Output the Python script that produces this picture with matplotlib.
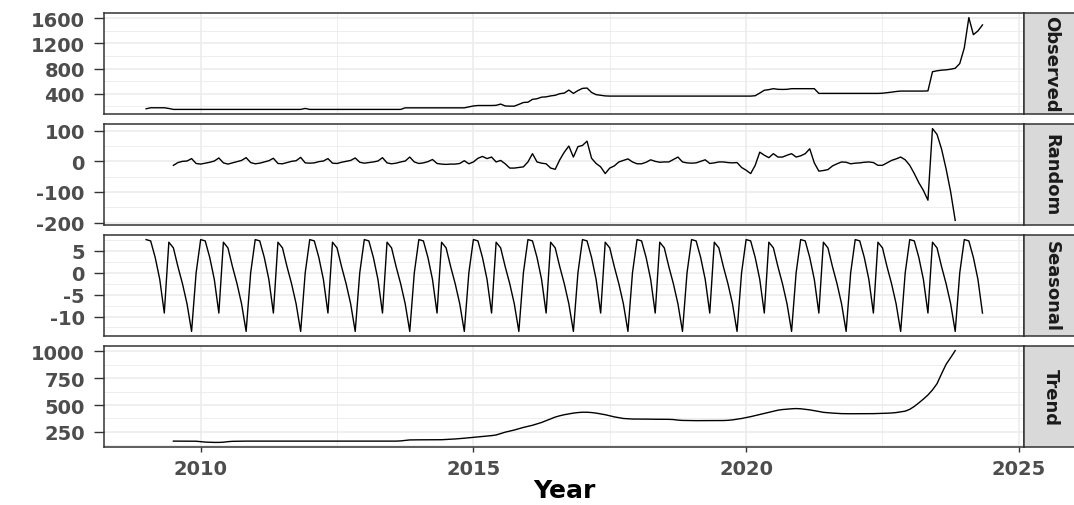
import numpy as np
import matplotlib.pyplot as plt
from matplotlib.ticker import MultipleLocator

plt.rcParams['font.family'] = 'DejaVu Sans'
plt.rcParams['axes.unicode_minus'] = False

# monthly series, Jan 2009 - May 2024
observed = [
    160, 176, 176, 176, 176, 165, 150, 150, 150, 150, 150, 150,  # 2009
    150, 150, 150, 150, 150, 150, 150, 150, 150, 150, 150, 150,  # 2010
    150, 150, 150, 150, 150, 150, 150, 150, 150, 150, 150, 165,  # 2011
    150, 150, 150, 150, 150, 150, 150, 150, 150, 150, 150, 150,  # 2012
    150, 150, 150, 150, 150, 150, 150, 150, 150, 175, 175, 175,  # 2013
    175, 175, 175, 175, 175, 175, 175, 175, 175, 175, 175, 190,  # 2014
    205, 212, 212, 212, 212, 215, 235, 205, 202, 202, 230, 260,  # 2015
    265, 310, 320, 345, 350, 365, 375, 400, 410, 458, 405, 450,  # 2016
    485, 490, 420, 385, 375, 365, 362, 362, 362, 362, 362, 362,  # 2017
    362, 362, 362, 362, 362, 362, 362, 362, 362, 362, 362, 362,  # 2018
    362, 362, 362, 362, 362, 362, 362, 362, 362, 362, 362, 362,  # 2019
    362, 362, 368, 410, 455, 465, 480, 470, 468, 470, 480, 480,  # 2020
    480, 480, 480, 480, 405, 405, 405, 405, 405, 405, 405, 405,  # 2021
    405, 405, 405, 405, 405, 405, 408, 416, 425, 435, 442, 442,  # 2022
    442, 442, 442, 442, 445, 750, 765, 775, 780, 790, 805, 880,  # 2023
    1130, 1612, 1340, 1400, 1495,                                # 2024
]

# seasonal figure per calendar month (Jan..Dec), repeats every year
seasonal_month = [7.6, 7.3, 3.5, -1.5, -9.2, 7.0, 5.7, 1.4, -2.5, -7.1, -13.4, 0.0]

# moving-average parts, Jul 2009 - Nov 2023
trend = [
    165, 165, 165, 165, 165, 164,                                # 2009
    160, 156, 154, 153, 153, 155, 160, 163, 164, 165, 165, 165,  # 2010
    165, 165, 165, 165, 165, 165, 165, 165, 165, 165, 165, 165,  # 2011
    165, 165, 165, 165, 165, 165, 165, 165, 165, 165, 165, 165,  # 2012
    165, 165, 165, 165, 165, 165, 165, 165, 167, 172, 176, 177,  # 2013
    177, 177, 177, 177, 177, 178, 180, 183, 185, 188, 192, 196,  # 2014
    200, 204, 208, 212, 216, 222, 235, 248, 258, 268, 280, 292,  # 2015
    302, 312, 325, 338, 355, 372, 388, 400, 410, 418, 425, 430,  # 2016
    433, 433, 430, 425, 418, 410, 400, 390, 382, 375, 372, 370,  # 2017
    370, 369, 369, 368, 368, 368, 368, 367, 365, 360, 357, 356,  # 2018
    356, 355, 355, 355, 355, 355, 355, 356, 358, 362, 368, 375,  # 2019
    383, 392, 402, 412, 422, 432, 442, 452, 458, 462, 465, 467,  # 2020
    465, 460, 455, 448, 440, 432, 428, 425, 422, 420, 419, 419,  # 2021
    419, 419, 419, 419, 420, 421, 422, 424, 426, 430, 436, 443,  # 2022
    460, 487, 520, 555, 593, 640, 698, 790, 878, 940, 1005,      # 2023
]

random_part = [
    -13, -4, 0, 1, 9, -7,                                        # 2009
    -9, -6, -3, 1, 11, -5, -9, -5, -1, 3, 12, -4,                # 2010
    -8, -6, -2, 2, 10, -7, -8, -4, 0, 2, 13, -5,                 # 2011
    -6, -5, -1, 1, 9, -6, -7, -3, 0, 3, 11, -3,                  # 2012
    -6, -4, -2, 1, 12, -5, -8, -6, -2, 1, 14, -2,                # 2013
    -7, -5, -1, 6, -7, -9, -10, -9, -9, -7, 2, -8,               # 2014
    -2, 10, 16, 9, 14, -2, 3, -8, -22, -22, -20, -18,            # 2015
    -2, 25, -2, -6, -8, -22, -26, 5, 30, 50, 14, 48,             # 2016
    52, 66, 10, -7, -18, -40, -22, -15, -2, 3, 8, -2,            # 2017
    -8, -8, -3, 5, 0, -3, -2, -2, 6, 14, -2, -5,                 # 2018
    -6, -5, 0, 5, -7, -5, -2, -2, -4, -5, -4, -20,               # 2019
    -29, -40, -13, 30, 20, 12, 25, 14, 14, 20, 25, 14,           # 2020
    18, 25, 41, -5, -32, -30, -27, -15, -8, -2, -3, -8,          # 2021
    -6, -5, -3, -2, -4, -13, -13, -5, 3, 8, 14, 5,               # 2022
    -13, -40, -70, -95, -127, 107, 88, 40, -25, -100, -193,      # 2023
]

obs_t = 2009 + np.arange(len(observed)) / 12
dec_t = 2009.5 + np.arange(len(trend)) / 12
seasonal = np.tile(seasonal_month, 16)[:len(observed)]

panels = [
    ("Observed", obs_t, observed, 400),
    ("Random", dec_t, random_part, 100),
    ("Seasonal", obs_t, seasonal, 5),
    ("Trend", dec_t, trend, 250),
]

W, H = 1074, 506
fig = plt.figure(figsize=(W / 100, H / 100), dpi=100)
left, right = 104.3, 1024.3
tops = [14, 125, 236, 347]
ph = 101

axes = []
for i, (name, t, vals, step) in enumerate(panels):
    rect = [left / W, 1 - (tops[i] + ph) / H, (right - left) / W, ph / H]
    ax = fig.add_axes(rect, sharex=axes[0] if axes else None)
    ax.plot(t, vals, color='black', lw=1.0)
    ax.yaxis.set_major_locator(MultipleLocator(step))
    ax.yaxis.set_minor_locator(MultipleLocator(step / 2))
    ax.xaxis.set_major_locator(MultipleLocator(5))
    ax.xaxis.set_minor_locator(MultipleLocator(2.5))
    ax.grid(which='major', color='#EBEBEB', lw=1.1)
    ax.grid(which='minor', color='#EBEBEB', lw=0.6)
    ax.set_axisbelow(True)
    for s in ax.spines.values():
        s.set_color('#333333')
        s.set_linewidth(1.1)
    ax.tick_params(which='minor', length=0)
    ax.tick_params(axis='y', which='major', length=7, width=1.0, color='#333333',
                   pad=7, labelsize=14, labelcolor='#4D4D4D')
    if i < 3:
        ax.tick_params(axis='x', bottom=False, labelbottom=False)
    else:
        ax.tick_params(axis='x', which='major', length=3.4, width=1.0, color='#333333',
                       pad=5, labelsize=14, labelcolor='#4D4D4D')
        ax.set_xlabel('Year', fontsize=18, fontweight='bold', color='black', labelpad=0)

    # facet strip on the right
    sax = fig.add_axes([right / W, rect[1], 54 / W, ph / H])
    sax.set_facecolor('#D9D9D9')
    sax.set_xticks([])
    sax.set_yticks([])
    for s in sax.spines.values():
        s.set_color('#333333')
        s.set_linewidth(1.1)
    sax.text(0.5, 0.5, name, rotation=270, ha='center', va='center',
             fontsize=13, fontweight='bold', color='#1A1A1A', transform=sax.transAxes)
    axes.append(ax)

for ax in axes:
    for lab in ax.get_yticklabels() + ax.get_xticklabels():
        lab.set_fontweight('bold')

fig.savefig('out.png', dpi=100, facecolor='white')
